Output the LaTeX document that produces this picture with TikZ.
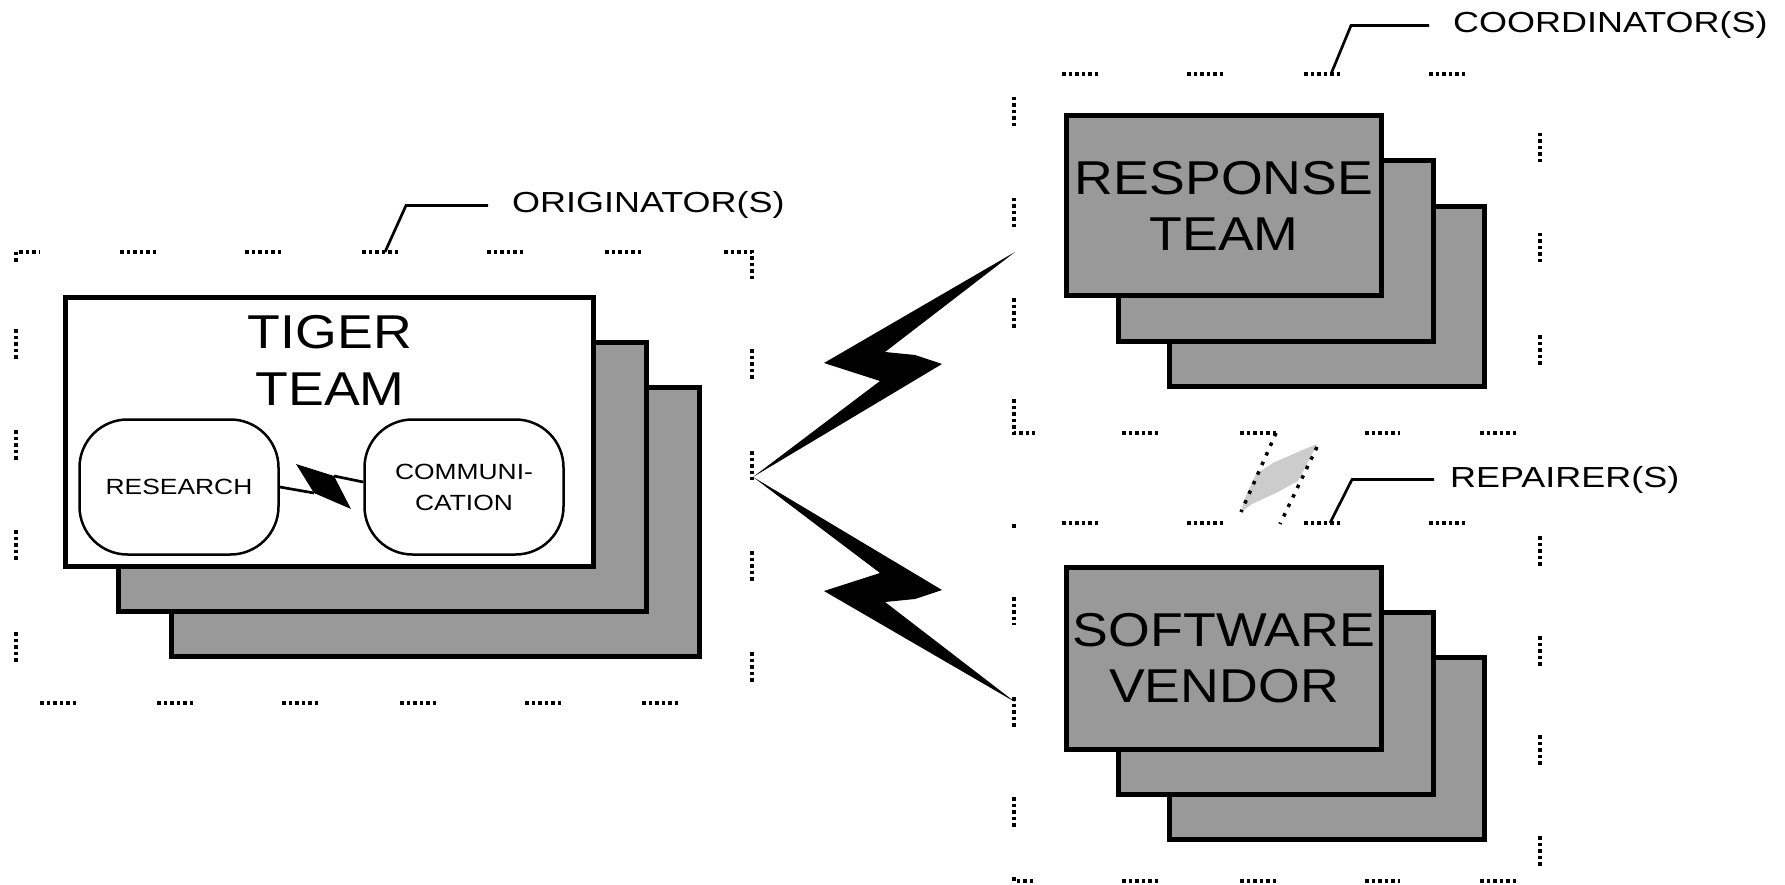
\documentclass[tikz,border=0pt]{standalone}
\usepackage{fontspec}
\setmainfont{Liberation Sans}
\newfontfamily\bigfont[FakeStretch=1.13]{Liberation Sans}
\newfontfamily\tagfont[FakeStretch=1.24]{Liberation Sans}
\newfontfamily\blobfont[FakeStretch=1.2]{Liberation Sans}
\usetikzlibrary{calc}

\definecolor{cardgray}{RGB}{153,153,153}
\definecolor{fadegray}{RGB}{204,204,204}

\tikzset{
	card/.style={draw=black, line width=5pt, fill=cardgray, minimum width=315pt, minimum height=180pt,
		inner sep=0pt, align=center, font=\bigfont\fontsize{47.5}{56}\selectfont},
	fence/.style={line width=3.5pt, dash pattern=on 3.5pt off 3pt},
	trace/.style={line width=3.5pt, dash pattern=on 3.5pt off 7pt},
	leader/.style={line width=2.7pt},
	tag/.style={inner sep=0pt, anchor=base west, font=\tagfont\fontsize{29}{34}\selectfont},
	blob/.style={draw=black, line width=2.5pt, rounded corners=48pt, minimum width=199pt, minimum height=135pt,
		inner sep=0pt, align=center, font=\blobfont\fontsize{22}{31}\selectfont},
	link/.style={line width=2.7pt}
}

\begin{document}
\begin{tikzpicture}[x=1pt, y=-1pt]
	\useasboundingbox[fill=white] (0,0) rectangle (1785,885);

	% originator frame
	\draw[fence] (16,262) -- (16,252) -- (39,252);
	\draw[fence] (724,252) -- (752,252) -- (752,280);
	\foreach \a/\b in { 120/156, 245/282, 362/400, 487/525, 605/642 }
		\draw[fence] (\a,252) -- (\b,252);
	\foreach \a/\b in { 40/76, 157/195, 282/320, 400/437, 525/562, 642/680 }
		\draw[fence] (\a,703) -- (\b,703);
	\foreach \a/\b in { 329/360, 430/461, 530/562, 632/663 }
		\draw[fence] (16,\a) -- (16,\b);
	\foreach \a/\b in { 349/380, 451/480, 551/582, 652/683 }
		\draw[fence] (752,\a) -- (752,\b);

	% coordinator frame
	\foreach \a/\b in { 1062/1100, 1187/1224, 1304/1340, 1429/1465 }
		\draw[fence] (\a,74) -- (\b,74);
	\draw[fence] (1014,399) -- (1014,433) -- (1035,433);
	\foreach \a/\b in { 1122/1160, 1240/1276, 1365/1400, 1480/1517 }
		\draw[fence] (\a,433) -- (\b,433);
	\foreach \a/\b in { 97/127, 198/228, 298/329 }
		\draw[fence] (1014,\a) -- (1014,\b);
	\foreach \a/\b in { 133/163, 233/263, 335/365 }
		\draw[fence] (1540,\a) -- (1540,\b);

	% repairer frame
	\fill (1012.2,524) rectangle (1015.7,527.5);
	\foreach \a/\b in { 1062/1100, 1187/1224, 1304/1340, 1429/1465 }
		\draw[fence] (\a,523) -- (\b,523);
	\draw[fence] (1014,877) -- (1014,881) -- (1035,881);
	\foreach \a/\b in { 1122/1160, 1240/1277, 1365/1400, 1480/1517 }
		\draw[fence] (\a,881) -- (\b,881);
	\foreach \a/\b in { 597/625, 697/728, 797/827 }
		\draw[fence] (1014,\a) -- (1014,\b);
	\foreach \a/\b in { 536/566, 636/667, 735/766, 836/868 }
		\draw[fence] (1540,\a) -- (1540,\b);

	% stacks
	\foreach \k in {2,1}
		\node[card, minimum width=528pt, minimum height=269pt] (tiger\k) at (329.5+53*\k, 432+45*\k) {};
	\node[card, fill=white, minimum width=528pt, minimum height=269pt] (tiger0) at (329.5,432) {};
	\node[inner sep=0pt, align=center, font=\bigfont\fontsize{47.5}{57}\selectfont] (tigerlabel) at (330,360) {TIGER\\TEAM};

	\foreach \k in {2,1}
		\node[card] (resp\k) at (1224+51.5*\k, 205.5+45.5*\k) {};
	\node[card] (resp0) at (1224,205.5) {RESPONSE\\TEAM};

	\foreach \k in {2,1}
		\node[card, minimum height=182pt] (soft\k) at (1224+51.5*\k, 658+45*\k) {};
	\node[card, minimum height=182pt] (soft0) at (1224,658) {SOFTWARE\\VENDOR};

	% inside the tiger team
	\node[blob] (research) at (179,487) {RESEARCH};
	\node[blob] (commun) at (464,487) {COMMUNI-\\CATION};
	\coordinate (zapin) at (314,493);
	\coordinate (zapout) at (334,476);
	\fill (296,464) -- (zapout) -- (351,509) -- (zapin) -- cycle;
	\draw[link] (research.east) -- (zapin);
	\draw[link] (zapout) -- ([yshift=5pt]commun.west);

	% bolts
	\coordinate (apex) at (753,477);
	\coordinate (coordtip) at (1015,252);
	\coordinate (repairtip) at (1015,702);
	\fill (apex) -- +(127,-96) -- +(71,-114) -- (coordtip) -- +(-130,100) -- +(-100,103) -- +(-73,112) -- cycle;
	\fill (apex) -- +(127,96) -- +(71,114) -- (repairtip) -- +(-130,-100) -- +(-100,-103) -- +(-73,-112) -- cycle;

	% faded link
	\fill[fadegray] (1241,512) -- (1245,498) -- (1256,474) -- (1273,463) -- (1300,451) -- (1317,444)
		-- (1308,462) -- (1298,481) -- (1278,492) -- (1252,504) -- cycle;
	\draw[trace] (1276,433) -- (1241,512);
	\draw[trace] (1317,447) -- (1280,524);

	% labels
	\node[tag] (origlabel) at (512,213) {ORIGINATOR(S)};
	\node[tag] (coordlabel) at (1453,33) {COORDINATOR(S)};
	\node[tag] (repairlabel) at (1450,487) {REPAIRER(S)};
	\coordinate (origtip) at (385,252);
	\coordinate (coordfoot) at (1331,74);
	\coordinate (repairfoot) at (1330,523);
	\draw[leader] (origtip) -- ([xshift=-106pt]origlabel.west) -- ([xshift=-24pt]origlabel.west);
	\draw[leader] (coordfoot) -- ([xshift=-102pt]coordlabel.west) -- ([xshift=-24pt]coordlabel.west);
	\draw[leader] (repairfoot) -- ([xshift=-98pt]repairlabel.west) -- ([xshift=-16pt]repairlabel.west);
\end{tikzpicture}
\end{document}
